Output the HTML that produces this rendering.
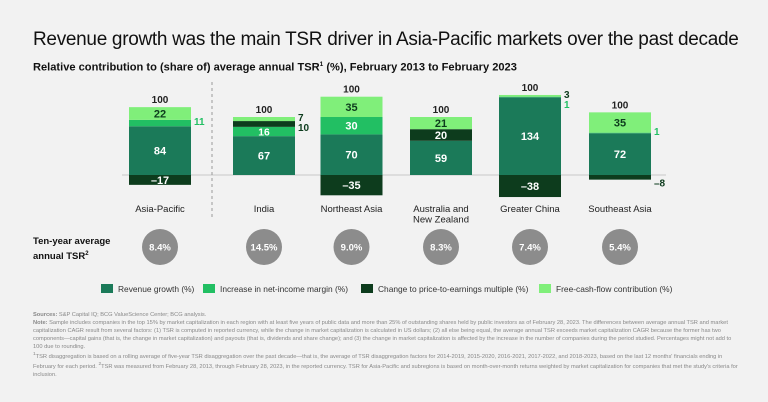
<!DOCTYPE html>
<html><head><meta charset="utf-8"><style>
body{margin:0;background:#f2f2f2;font-family:"Liberation Sans",sans-serif;}
#wrap{position:relative;width:768px;height:402px;overflow:hidden;background:#f2f2f2;}
.t{position:absolute;white-space:nowrap;}
</style></head><body>
<div id="wrap">
<div class="t" style="left:33px;top:29px;font-size:19px;color:#111;letter-spacing:-0.3px">Revenue growth was the main TSR driver in Asia-Pacific markets over the past decade</div>
<div class="t" style="left:33px;top:61px;font-size:11.1px;font-weight:bold;color:#111">Relative contribution to (share of) average annual TSR<sup style="font-size:6.5px">1</sup> (%), February 2013 to February 2023</div>
<svg id="chart" width="768" height="402" style="position:absolute;left:0;top:0"></svg>
<div class="t" style="left:33px;top:236px;font-size:9.5px;font-weight:bold;color:#111;line-height:12px">Ten-year average<br>annual TSR<sup style="font-size:6px">2</sup></div>
<div class="t" style="left:33px;top:311px;width:705px;white-space:normal;font-size:5.7px;line-height:8px;color:#888">
<b>Sources:</b> S&amp;P Capital IQ; BCG ValueScience Center; BCG analysis.<br>
<b>Note:</b> Sample includes companies in the top 15% by market capitalization in each region with at least five years of public data and more than 25% of outstanding shares held by public investors as of February 28, 2023. The differences between average annual TSR and market capitalization CAGR result from several factors: (1) TSR is computed in reported currency, while the change in market capitalization is calculated in US dollars; (2) all else being equal, the average annual TSR exceeds market capitalization CAGR because the former has two components—capital gains (that is, the change in market capitalization) and payouts (that is, dividends and share change); and (3) the change in market capitalization is affected by the increase in the number of companies during the period studied. Percentages might not add to 100 due to rounding.<br>
<sup>1</sup>TSR disaggregation is based on a rolling average of five-year TSR disaggregation over the past decade—that is, the average of TSR disaggregation factors for 2014-2019, 2015-2020, 2016-2021, 2017-2022, and 2018-2023, based on the last 12 months' financials ending in February for each period. <sup>2</sup>TSR was measured from February 28, 2013, through February 28, 2023, in the reported currency. TSR for Asia-Pacific and subregions is based on month-over-month returns weighted by market capitalization for companies that met the study's criteria for inclusion.
</div>
</div>
<script>
const categories=["Asia-Pacific","India","Northeast Asia","Australia and\nNew Zealand","Greater China","Southeast Asia"];
const revenue=[84,67,70,59,134,72];
const margin=[11,16,30,0,1,1];
const peMultiple=[-17,10,-35,20,-38,-8];
const fcf=[22,7,35,21,3,35];
const totals=[100,100,100,100,100,100];
const tsr=["8.4%","14.5%","9.0%","8.3%","7.4%","5.4%"];
const seriesNames=["Revenue growth (%)","Increase in net-income margin (%)","Change to price-to-earnings multiple (%)","Free-cash-flow contribution (%)"];

const colors=["#1b7a59","#22bf63","#0d3c1d","#80ef7a"];
const NS="http://www.w3.org/2000/svg";
const svg=document.getElementById('chart');
const zeroY=175, k=0.58, barW=62;
const centers=[160,264,351.5,441,530,620];
const xPos=i=>centers[i];
const yPos=v=>zeroY-v*k;
function mk(tag,attrs,parent){const e=document.createElementNS(NS,tag);for(const a in attrs)e.setAttribute(a,attrs[a]);(parent||svg).appendChild(e);return e;}
function txt(x,y,s,opt){const e=mk('text',Object.assign({x:x,y:y,'font-family':'Liberation Sans, sans-serif','font-size':11,'text-anchor':'middle'},opt));e.textContent=s;return e;}
const zl=mk('line',{x1:122,x2:666,y1:zeroY,y2:zeroY,stroke:'#d6d6d6','stroke-width':1.5});


const dl=mk('line',{x1:212,x2:212,y1:82,y2:220,stroke:'#999','stroke-width':1,'stroke-dasharray':'3,3'});


categories.forEach((c,i)=>{
  const g=mk('g',{});
  
  
  const x=xPos(i)-barW/2;
  let top=0, bot=0;
  const segs=[[revenue[i],0],[margin[i],1],[peMultiple[i],2],[fcf[i],3]];
  const outside=[];
  segs.forEach(([v,s])=>{
    if(v===0)return;
    let y0,y1;
    if(v>0){y0=top;y1=top+v;top=y1;}else{y0=bot;y1=bot+v;bot=y1;}
    const ya=yPos(Math.max(y0,y1)), yb=yPos(Math.min(y0,y1));
    const r=mk('rect',{x:x,y:ya,width:barW,height:yb-ya,fill:colors[s]},g);
    
    
    const lbl=(v<0?'\u2013'+(-v):String(v));
    if(yb-ya>=9){
      const t=txt(xPos(i),(ya+yb)/2+4,lbl,{fill:s===3?'#0d3c1d':'#fff','font-weight':'bold','font-size':Math.min(11,yb-ya+1)});
      
      
    } else outside.push([lbl,(ya+yb)/2,s,v]);
  });
  outside.sort((a,b)=>a[1]-b[1]);
  let last=-99;
  outside.forEach(([lbl,y,s,v])=>{
    let yy=Math.max(y+2,last+10); if(v<0) yy=y+9; last=yy;
    const t=txt(x+barW+3,yy,lbl,{fill:s===1?'#22bf63':'#0d3c1d','font-weight':'bold','font-size':10,'text-anchor':'start'});
    
    
  });
  const tt=txt(xPos(i),yPos(top)-4,String(totals[i]),{fill:'#222','font-weight':'bold','font-size':10});
  
  
  c.split('\n').forEach((ln,j)=>{
    const t=txt(xPos(i),212+j*10.5,ln,{fill:'#222','font-size':9.5});
    
    
  });
  const ci=mk('circle',{cx:xPos(i),cy:247,r:18,fill:'#8c8c8c'},g);
  
  
  const ct=txt(xPos(i),250.5,tsr[i],{fill:'#fff','font-weight':'bold','font-size':9.5});
  
  
});
const lx=[101,203,361,539];
seriesNames.forEach((n,s)=>{
  const r=mk('rect',{x:lx[s],y:284,width:12,height:9,fill:colors[s]});
  
  
  const t=txt(lx[s]+17,292,n,{fill:'#333','font-size':8.4,'text-anchor':'start'});
  
  
});
</script>
</body></html>
